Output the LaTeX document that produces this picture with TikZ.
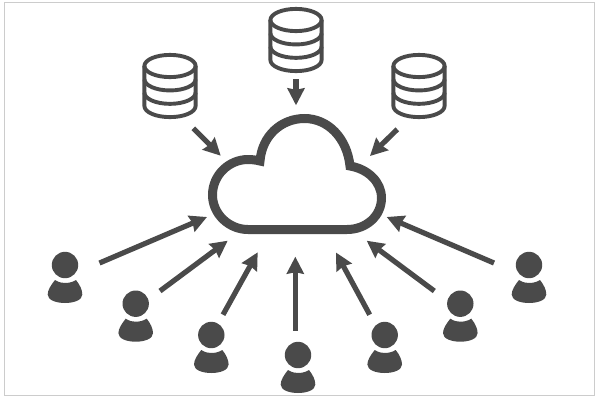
\documentclass[tikz,border=0pt]{standalone}
\usetikzlibrary{arrows.meta}
\definecolor{ink}{HTML}{4A4A4A}
\definecolor{frame}{HTML}{CCCCCC}
\tikzset{
  x=1pt,y=-1pt,
  flow/.style={draw=ink,line width=5.2pt,-{Stealth[length=17pt,width=17pt,inset=1.5pt]}},
  dbline/.style={draw=ink,line width=3.9pt},
  cloudline/.style={draw=ink,line width=9pt,line join=miter,miter limit=10,fill=white},
  dbicon/.pic={
    \draw[dbline] (0,0) ellipse [x radius=25.6,y radius=11.1];
    \draw[dbline,line join=round] (-25.6,0) -- (-25.6,40) .. controls (-25.6,46.2) and (-14.2,51.1) .. (0,51.1) .. controls (14.2,51.1) and (25.6,46.2) .. (25.6,40) -- (25.6,0);
    \draw[dbline] (-25.6,13.2) .. controls (-25.6,19.4) and (-14.2,24.45) .. (0,24.45) .. controls (14.2,24.45) and (25.6,19.4) .. (25.6,13.2);
    \draw[dbline] (-25.6,26.6) .. controls (-25.6,32.8) and (-14.2,37.85) .. (0,37.85) .. controls (14.2,37.85) and (25.6,32.8) .. (25.6,26.6);
  },
  usericon/.pic={
    \fill[ink] (0,0) circle [radius=13.2];
    \fill[ink] (-10,15) .. controls (-6,17.5) and (-3,18) .. (0,18) .. controls (3,18) and (7,17.5) .. (11,15)
      .. controls (15,20) and (17.3,25) .. (17.3,29.5) .. controls (17.3,35) and (9,38) .. (0,38)
      .. controls (-9,38) and (-17.3,35) .. (-17.3,29.5) .. controls (-17.3,25) and (-14,20) .. (-10,15) -- cycle;
  }
}
\begin{document}
\begin{tikzpicture}
\useasboundingbox (0,0) rectangle (600,400);
\fill[white] (0,0) rectangle (600,400);
\draw[frame,line width=1pt] (4.5,2) rectangle (594,395);

% cloud
\path[cloudline] (260,161)
  .. controls (262,136) and (281,118.5) .. (304.5,118.5)
  .. controls (328,118.5) and (347,138) .. (350,166)
  .. controls (368,169) and (381.5,182) .. (381.5,198)
  .. controls (381.5,216) and (366,229.5) .. (347,229.5)
  -- (248,229.5)
  .. controls (229,229.5) and (212.5,214) .. (212.5,195)
  .. controls (212.5,175) and (229,159.5) .. (248,159.5)
  .. controls (252,159.5) and (256,160) .. (260,161) -- cycle;

% databases
\pic (dbL) at (170,66) {dbicon};
\pic (dbM) at (296,20) {dbicon};
\pic (dbR) at (419,66) {dbicon};

% users
\pic (u1) at (65,265) {usericon};
\pic (u2) at (135.7,303.7) {usericon};
\pic (u3) at (211.3,335) {usericon};
\pic (u4) at (298,355) {usericon};
\pic (u5) at (384.7,335) {usericon};
\pic (u6) at (460.3,303.7) {usericon};
\pic (u7) at (529,265) {usericon};

% connector ends
\coordinate (dbLout) at (193.3,128.3);
\coordinate (dbMout) at (296,79.3);
\coordinate (dbRout) at (397.3,129.3);
\coordinate (dbLin) at (220.7,155.7);
\coordinate (dbMin) at (296,105.3);
\coordinate (dbRin) at (370,156);
\coordinate (u1out) at (99.5,263);
\coordinate (u2out) at (160,291);
\coordinate (u3out) at (223,314.7);
\coordinate (u4out) at (295.3,330.5);
\coordinate (u5out) at (369.7,314.7);
\coordinate (u6out) at (434.3,291);
\coordinate (u7out) at (494,263);
\coordinate (u1in) at (207,217);
\coordinate (u2in) at (227.7,240.7);
\coordinate (u3in) at (257.7,252.3);
\coordinate (u4in) at (295.3,256.7);
\coordinate (u5in) at (336,252.5);
\coordinate (u6in) at (366.7,240.7);
\coordinate (u7in) at (386.7,217);

\draw[flow] (dbLout) -- (dbLin);
\draw[flow] (dbMout) -- (dbMin);
\draw[flow] (dbRout) -- (dbRin);
\draw[flow] (u1out) -- (u1in);
\draw[flow] (u2out) -- (u2in);
\draw[flow] (u3out) -- (u3in);
\draw[flow] (u4out) -- (u4in);
\draw[flow] (u5out) -- (u5in);
\draw[flow] (u6out) -- (u6in);
\draw[flow] (u7out) -- (u7in);
\end{tikzpicture}
\end{document}
